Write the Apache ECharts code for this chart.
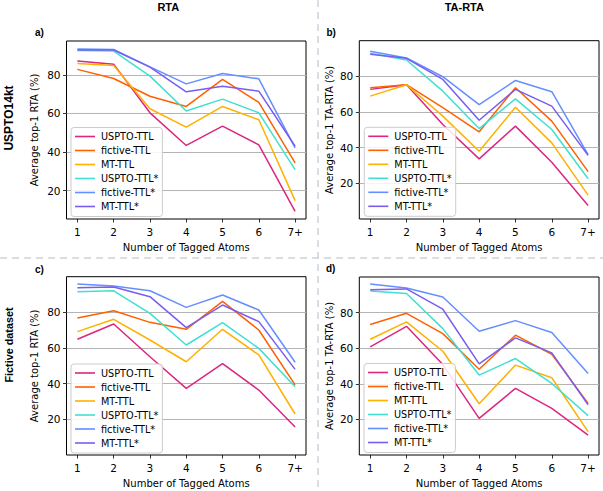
<!DOCTYPE html>
<html>
<head>
<meta charset="utf-8">
<script src="https://cdn.jsdelivr.net/npm/echarts@6/dist/echarts.min.js"></script>
<style>
html,body{margin:0;padding:0;background:#fff;}
#c{width:603px;height:491px;}
</style>
</head>
<body>
<div id="c"></div>
<script>
var categories = ['1','2','3','4','5','6','7+'];
var seriesNames = ['USPTO-TTL','fictive-TTL','MT-TTL','USPTO-TTL*','fictive-TTL*','MT-TTL*'];
var colors = ['#DC267F','#FE6100','#FFB000','#40E0D0','#648FFF','#785EF0'];
var yTicks = [20, 40, 60, 80];

// a) RTA, USPTO14kt
var usptoA   = [87.1, 85.5, 60.3, 43.4, 53.4, 43.7, 9.3];
var fictiveA = [82.8, 78.1, 68.9, 63.6, 77.6, 65.7, 34.4];
var mtA      = [85.9, 84.8, 62.4, 52.9, 63.6, 56.7, 14.8];
var usptoSA  = [92.6, 92.3, 79.3, 61.2, 67.4, 60.3, 30.9];
var fictiveSA= [93.3, 93.1, 84.1, 75.3, 80.7, 77.9, 42.1];
var mtSA     = [92.8, 92.8, 84.0, 71.2, 74.1, 71.5, 43.0];
// b) TA-RTA, USPTO14kt
var usptoB   = [72.7, 75.3, 53.0, 33.7, 52.1, 31.8, 7.6];
var fictiveB = [73.6, 75.3, 62.4, 48.9, 73.6, 54.9, 26.6];
var mtB      = [68.9, 75.3, 57.7, 38.0, 62.7, 42.7, 13.4];
var usptoSB  = [92.9, 89.2, 71.7, 50.7, 67.4, 50.2, 22.6];
var fictiveSB= [94.1, 90.3, 79.8, 64.1, 77.7, 71.4, 36.1];
var mtSB     = [92.4, 90.1, 78.3, 55.4, 72.7, 63.3, 35.7];
// c) RTA, Fictive dataset
var usptoC   = [64.9, 73.5, 55.1, 37.4, 51.2, 36.4, 15.7];
var fictiveC = [76.8, 80.9, 74.4, 70.5, 86.2, 70.1, 39.3];
var mtC      = [69.2, 76.1, 64.5, 52.3, 70.5, 56.1, 23.0];
var usptoSC  = [91.6, 92.1, 79.4, 61.7, 74.2, 59.8, 38.3];
var fictiveSC= [95.9, 94.8, 92.1, 82.8, 89.7, 81.3, 52.0];
var mtSC     = [93.8, 94.2, 88.8, 71.4, 84.1, 74.8, 48.0];
// d) TA-RTA, Fictive dataset
var usptoD   = [60.7, 72.3, 50.8, 20.6, 37.4, 26.2, 11.2];
var fictiveD = [73.3, 79.6, 68.2, 48.2, 67.3, 56.6, 29.0];
var mtD      = [65.0, 74.8, 58.3, 28.8, 50.5, 43.4, 13.1];
var usptoSD  = [92.1, 90.7, 71.0, 44.9, 54.2, 40.2, 22.1];
var fictiveSD= [96.1, 93.8, 88.8, 69.5, 75.5, 68.8, 45.8];
var mtSD     = [92.9, 93.3, 81.9, 51.2, 65.8, 57.4, 28.2];

var panels = [
  {data:[usptoA,fictiveA,mtA,usptoSA,fictiveSA,mtSA], yName:'Average top-1 RTA (%)', yMin:5.3, yMax:97.5,
   grid:{left:66.5, top:41, width:239.5, height:178}, nameGap:27.5, legend:{left:71, top:127.5}},
  {data:[usptoB,fictiveB,mtB,usptoSB,fictiveSB,mtSB], yName:'Average top-1 TA-RTA (%)', yMin:0, yMax:100,
   grid:{left:359.3, top:40.7, width:239.7, height:178.3}, nameGap:25, legend:{left:364.3, top:127.3}},
  {data:[usptoC,fictiveC,mtC,usptoSC,fictiveSC,mtSC], yName:'Average top-1 RTA (%)', yMin:0, yMax:100,
   grid:{left:66.5, top:276.7, width:239.5, height:178.3}, nameGap:27, legend:{left:71, top:364}},
  {data:[usptoD,fictiveD,mtD,usptoSD,fictiveSD,mtSD], yName:'Average top-1 TA-RTA (%)', yMin:0, yMax:100,
   grid:{left:359.3, top:277, width:239.7, height:178}, nameGap:25, legend:{left:364, top:363.5}}
];

var FONT = 'DejaVu Sans';
var BFONT = 'Liberation Sans';
var xTickVals = categories.map(function(c,i){return i+1;});

var grids=[], xAxes=[], yAxes=[], series=[], legends=[];
panels.forEach(function(p, k){
  grids.push({left:p.grid.left, top:p.grid.top, width:p.grid.width, height:p.grid.height,
    show:true, borderColor:'#000', borderWidth:1, backgroundColor:'rgba(0,0,0,0)', containLabel:false});
  xAxes.push({type:'value', gridIndex:k, min:0.7, max:7.3,
    name:'Number of Tagged Atoms', nameLocation:'middle', nameGap:23.5,
    nameTextStyle:{fontFamily:FONT, fontSize:10, color:'#000'},
    axisLine:{show:false},
    axisTick:{show:true, length:3.5, customValues:xTickVals, lineStyle:{color:'#000', width:0.8}},
    axisLabel:{customValues:xTickVals, fontFamily:FONT, fontSize:10.5, color:'#000', margin:7,
      formatter:function(v){return categories[Math.round(v)-1] || '';}},
    splitLine:{show:false}});
  yAxes.push({type:'value', gridIndex:k, min:p.yMin, max:p.yMax,
    name:p.yName, nameLocation:'middle', nameGap:p.nameGap,
    nameTextStyle:{fontFamily:FONT, fontSize:10, color:'#000'},
    axisLine:{show:false},
    axisTick:{show:true, length:3.5, customValues:yTicks, lineStyle:{color:'#000', width:0.8}},
    axisLabel:{customValues:yTicks, fontFamily:FONT, fontSize:10.5, color:'#000', margin:6},
    splitLine:{show:true, lineStyle:{color:'#b4b4b4', width:1}}});
  p.data.forEach(function(vals, s){
    series.push({type:'line', name:seriesNames[s], xAxisIndex:k, yAxisIndex:k,
      data: vals.map(function(v,i){return [i+1, v];}),
      showSymbol:false, symbol:'none', smooth:false, color:colors[s],
      lineStyle:{width:1.5, color:colors[s]}, z:2, silent:true});
  });
  legends.push({data:seriesNames, orient:'vertical', left:p.legend.left, top:p.legend.top,
    icon:'rect', itemWidth:20, itemHeight:1.6, itemGap:0,
    padding:[2,4,3,4], backgroundColor:'rgba(255,255,255,0.85)', borderColor:'#cccccc', borderWidth:1, borderRadius:3,
    textStyle:{fontFamily:FONT, fontSize:9.7, color:'#000', lineHeight:14, padding:[0,0,0,1]},
    selectedMode:false, z:10});
});

function txt(text, x, y, opts){
  opts = opts || {};
  return {type:'text', x:x, y:y, rotation:opts.rot||0, z:20,
    style:{text:text, x:0, y:0, fontFamily:opts.font||BFONT, fontSize:opts.size||10, fontWeight:opts.bold?'bold':'normal',
      fill:'#000', align:opts.align||'center', verticalAlign:'middle'}};
}

var graphics = [
  {type:'line', shape:{x1:0,y1:258,x2:603,y2:258}, style:{stroke:'#cdd2dc', lineWidth:1.5, lineDash:[7,5]}, z:0},
  {type:'line', shape:{x1:318,y1:0,x2:318,y2:491}, style:{stroke:'#cdd2dc', lineWidth:1.5, lineDash:[7,5]}, z:0},
  txt('RTA', 168.3, 7, {bold:true, size:11}),
  txt('TA-RTA', 464.3, 7, {bold:true, size:11}),
  txt('a)', 35, 32.3, {bold:true, align:'left', size:10}),
  txt('b)', 326.5, 32.3, {bold:true, align:'left', size:10}),
  txt('c)', 35, 269, {bold:true, align:'left', size:10}),
  txt('d)', 326, 268.5, {bold:true, align:'left', size:10}),
  txt('USPTO14kt', 8.5, 118, {bold:true, rot:Math.PI/2, size:12}),
  txt('Fictive dataset', 8.5, 345, {bold:true, rot:Math.PI/2, size:10.8})
];

var chart = echarts.init(document.getElementById('c'), null, {renderer:'svg', width:603, height:491});
chart.setOption({
  backgroundColor:'#fff',
  animation:false,
  grid:grids, xAxis:xAxes, yAxis:yAxes, series:series, legend:legends,
  graphic:{elements:graphics}
});
</script>
</body>
</html>
